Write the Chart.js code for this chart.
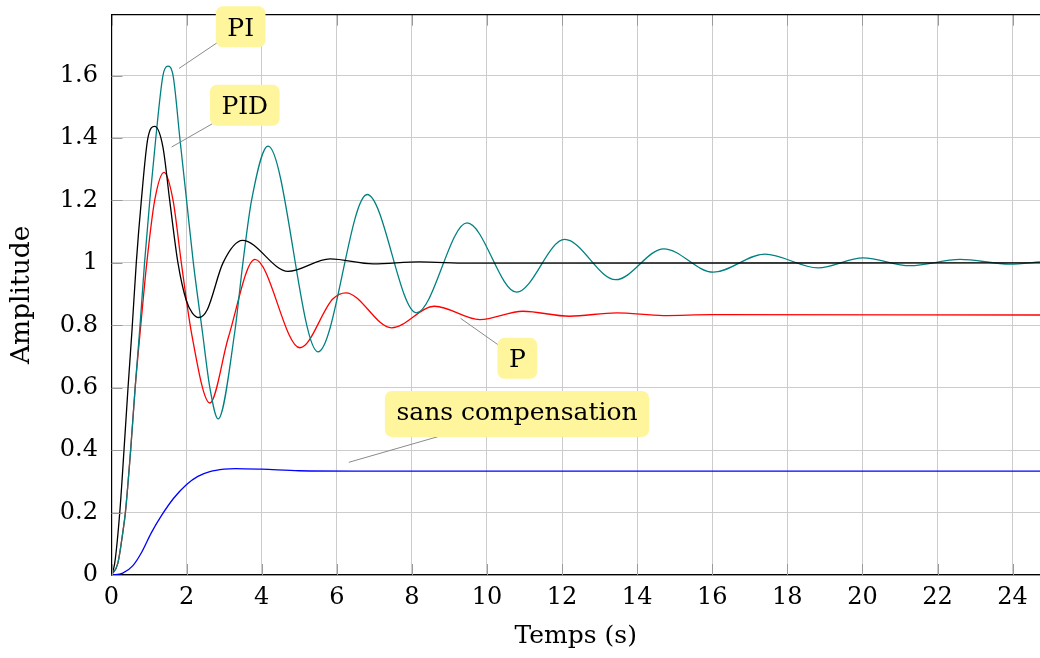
<!DOCTYPE html>
<html>
<head>
<meta charset="utf-8">
<script src="https://cdn.jsdelivr.net/npm/chart.js@4.4.1/dist/chart.umd.min.js"></script>
<style>
  html, body { margin: 0; padding: 0; background: #fff; }
  #wrap { width: 1040px; height: 658px; }
</style>
</head>
<body>
<div id="wrap"><canvas id="c"></canvas></div>
<script>
// step responses (time in s, amplitude)
const sansT = [0, 0.3, 0.57, 0.8, 1.06, 1.33, 1.65, 2.0, 2.3, 2.62, 3.0, 3.3, 4.0, 5.0, 6.5, 24.75];
const sansY = [0, 0.006, 0.03, 0.072, 0.135, 0.19, 0.245, 0.29, 0.316, 0.331, 0.339, 0.341, 0.339, 0.334, 0.333, 0.333];

const pT = [0, 0.17, 0.31, 0.37, 0.51, 0.63, 0.78, 0.94, 1.15, 1.40, 1.64, 1.86, 2.13, 2.62, 3.11, 3.82, 5.02, 5.9, 6.24, 7.46, 8.61, 9.81, 10.96, 12.2, 13.45, 14.7, 16.0, 24.75];
const pY = [0, 0.038, 0.144, 0.2, 0.4, 0.6, 0.8, 1.0, 1.2, 1.29, 1.2, 1.0, 0.776, 0.551, 0.76, 1.011, 0.728, 0.885, 0.904, 0.792, 0.861, 0.818, 0.845, 0.829, 0.840, 0.831, 0.834, 0.833];

const piT = [0, 0.17, 0.31, 0.37, 0.51, 0.63, 0.76, 0.88, 1.02, 1.18, 1.37, 1.50, 1.64, 1.82, 2.0, 2.18, 2.42, 2.62, 2.84, 3.28, 3.50, 3.73, 4.17, 5.50, 6.81, 8.12, 9.47, 10.79, 12.07, 13.43, 14.71, 16.03, 17.40, 18.82, 20.02, 21.27, 22.6, 23.93, 24.75];
const piY = [0, 0.038, 0.144, 0.2, 0.4, 0.6, 0.8, 1.0, 1.2, 1.4, 1.6, 1.63, 1.6, 1.4, 1.2, 1.0, 0.78, 0.6, 0.5, 0.776, 1.0, 1.2, 1.374, 0.715, 1.219, 0.84, 1.128, 0.906, 1.075, 0.946, 1.045, 0.970, 1.028, 0.984, 1.016, 0.991, 1.011, 0.996, 1.003];

const pidT = [0, 0.085, 0.22, 0.333, 0.44, 0.546, 0.66, 0.795, 0.97, 1.15, 1.37, 1.55, 1.77, 1.99, 2.15, 2.325, 2.55, 2.97, 3.49, 4.70, 5.82, 6.97, 8.2, 9.5, 24.75];
const pidY = [0, 0.037, 0.2, 0.4, 0.6, 0.784, 1.0, 1.2, 1.4, 1.437, 1.371, 1.2, 1.0, 0.88, 0.84, 0.825, 0.85, 1.0, 1.072, 0.973, 1.013, 0.997, 1.003, 0.999, 1.0];

const xTicks = [0, 2, 4, 6, 8, 10, 12, 14, 16, 18, 20, 22, 24];
const yTicks = [0, 0.2, 0.4, 0.6, 0.8, 1, 1.2, 1.4, 1.6];

// pins: box centre and pointed spot, in data units
const notes = [
  { text: 'PI', bx: 3.44, by: 1.756, px: 1.80, py: 1.623 },
  { text: 'PID', bx: 3.55, by: 1.505, px: 1.60, py: 1.371 },
  { text: 'P', bx: 10.81, by: 0.694, px: 9.30, py: 0.822 },
  { text: 'sans compensation', bx: 10.80, by: 0.516, px: 6.32, py: 0.361 }
];

const serif = '"DejaVu Serif", serif';

function pts(ts, ys) {
  return ts.map((t, i) => ({ x: t, y: ys[i] }));
}

function line(data, color) {
  return {
    data,
    borderColor: color,
    borderWidth: 1.3,
    pointRadius: 0,
    fill: false,
    cubicInterpolationMode: 'monotone'
  };
}

function roundBox(ctx, x, y, w, h, r) {
  ctx.beginPath();
  ctx.moveTo(x + r, y);
  ctx.arcTo(x + w, y, x + w, y + h, r);
  ctx.arcTo(x + w, y + h, x, y + h, r);
  ctx.arcTo(x, y + h, x, y, r);
  ctx.arcTo(x, y, x + w, y, r);
  ctx.closePath();
}

const frame = {
  id: 'frame',
  afterDatasetsDraw(chart) {
    const { ctx, chartArea: a, scales: { x, y } } = chart;
    ctx.save();
    // inward tick marks
    ctx.strokeStyle = '#9a9a9a';
    ctx.lineWidth = 1;
    ctx.beginPath();
    xTicks.forEach(v => {
      const px = Math.round(x.getPixelForValue(v)) + 0.5;
      ctx.moveTo(px, a.bottom); ctx.lineTo(px, a.bottom - 11);
      ctx.moveTo(px, a.top); ctx.lineTo(px, a.top + 11);
    });
    yTicks.forEach(v => {
      const py = Math.round(y.getPixelForValue(v)) + 0.5;
      ctx.moveTo(a.left, py); ctx.lineTo(a.left + 11, py);
    });
    ctx.stroke();
    // top edge of the box
    ctx.strokeStyle = '#000';
    ctx.lineWidth = 1.2;
    ctx.beginPath();
    ctx.moveTo(a.left, a.top);
    ctx.lineTo(a.right, a.top);
    ctx.stroke();

    ctx.font = '25px ' + serif;
    notes.forEach(n => {
      const cx = x.getPixelForValue(n.bx), cy = y.getPixelForValue(n.by);
      const ex = x.getPixelForValue(n.px), ey = y.getPixelForValue(n.py);
      const m = ctx.measureText(n.text);
      const asc = m.actualBoundingBoxAscent, desc = m.actualBoundingBoxDescent;
      const w = m.width + 23, h = asc + desc + 23;
      ctx.strokeStyle = '#8a8a8a';
      ctx.lineWidth = 1;
      ctx.beginPath();
      ctx.moveTo(cx, cy);
      ctx.lineTo(ex, ey);
      ctx.stroke();
      ctx.fillStyle = '#fff59d';
      roundBox(ctx, cx - w / 2, cy - h / 2, w, h, 7);
      ctx.fill();
      ctx.fillStyle = '#000';
      ctx.textAlign = 'center';
      ctx.textBaseline = 'alphabetic';
      ctx.fillText(n.text, cx, cy + (asc - desc) / 2);
    });
    ctx.restore();
  }
};

new Chart(document.getElementById('c').getContext('2d'), {
  type: 'line',
  data: {
    datasets: [
      line(pts(pidT, pidY), '#000000'),
      line(pts(piT, piY), '#008080'),
      line(pts(pT, pY), '#ff0000'),
      line(pts(sansT, sansY), '#0000ff')
    ]
  },
  options: {
    responsive: true,
    maintainAspectRatio: false,
    devicePixelRatio: 1,
    animation: false,
    layout: { padding: { top: 14.7, left: 0, right: 0, bottom: 0 } },
    plugins: { legend: { display: false }, tooltip: { enabled: false } },
    scales: {
      x: {
        type: 'linear',
        min: 0,
        max: 24.73,
        afterFit: s => { s.height = 83; s.paddingLeft = 0; s.paddingRight = 0; },
        afterBuildTicks: s => { s.ticks = xTicks.map(v => ({ value: v })); },
        grid: { color: '#cccccc', lineWidth: 1, drawTicks: false },
        border: { display: true, color: '#000', width: 1.2 },
        ticks: {
          padding: 8,
          color: '#000',
          font: { family: serif, size: 24 },
          maxRotation: 0,
          callback: v => String(v)
        },
        title: {
          display: true,
          text: 'Temps (s)',
          color: '#000',
          font: { family: serif, size: 25 },
          padding: { top: 0, bottom: 7 }
        }
      },
      y: {
        type: 'linear',
        min: 0,
        max: 1.795,
        afterFit: s => { s.width = 111.5; s.paddingTop = 0; s.paddingBottom = 0; },
        afterBuildTicks: s => { s.ticks = yTicks.map(v => ({ value: v })); },
        grid: { color: '#cccccc', lineWidth: 1, drawTicks: false },
        border: { display: true, color: '#000', width: 1.2 },
        ticks: {
          padding: 13.5,
          color: '#000',
          font: { family: serif, size: 24 },
          callback: v => String(Math.round(v * 10) / 10)
        },
        title: {
          display: true,
          text: 'Amplitude',
          color: '#000',
          font: { family: serif, size: 26.5 },
          padding: { top: 6, bottom: 0 }
        }
      }
    }
  },
  plugins: [frame]
});
</script>
</body>
</html>
